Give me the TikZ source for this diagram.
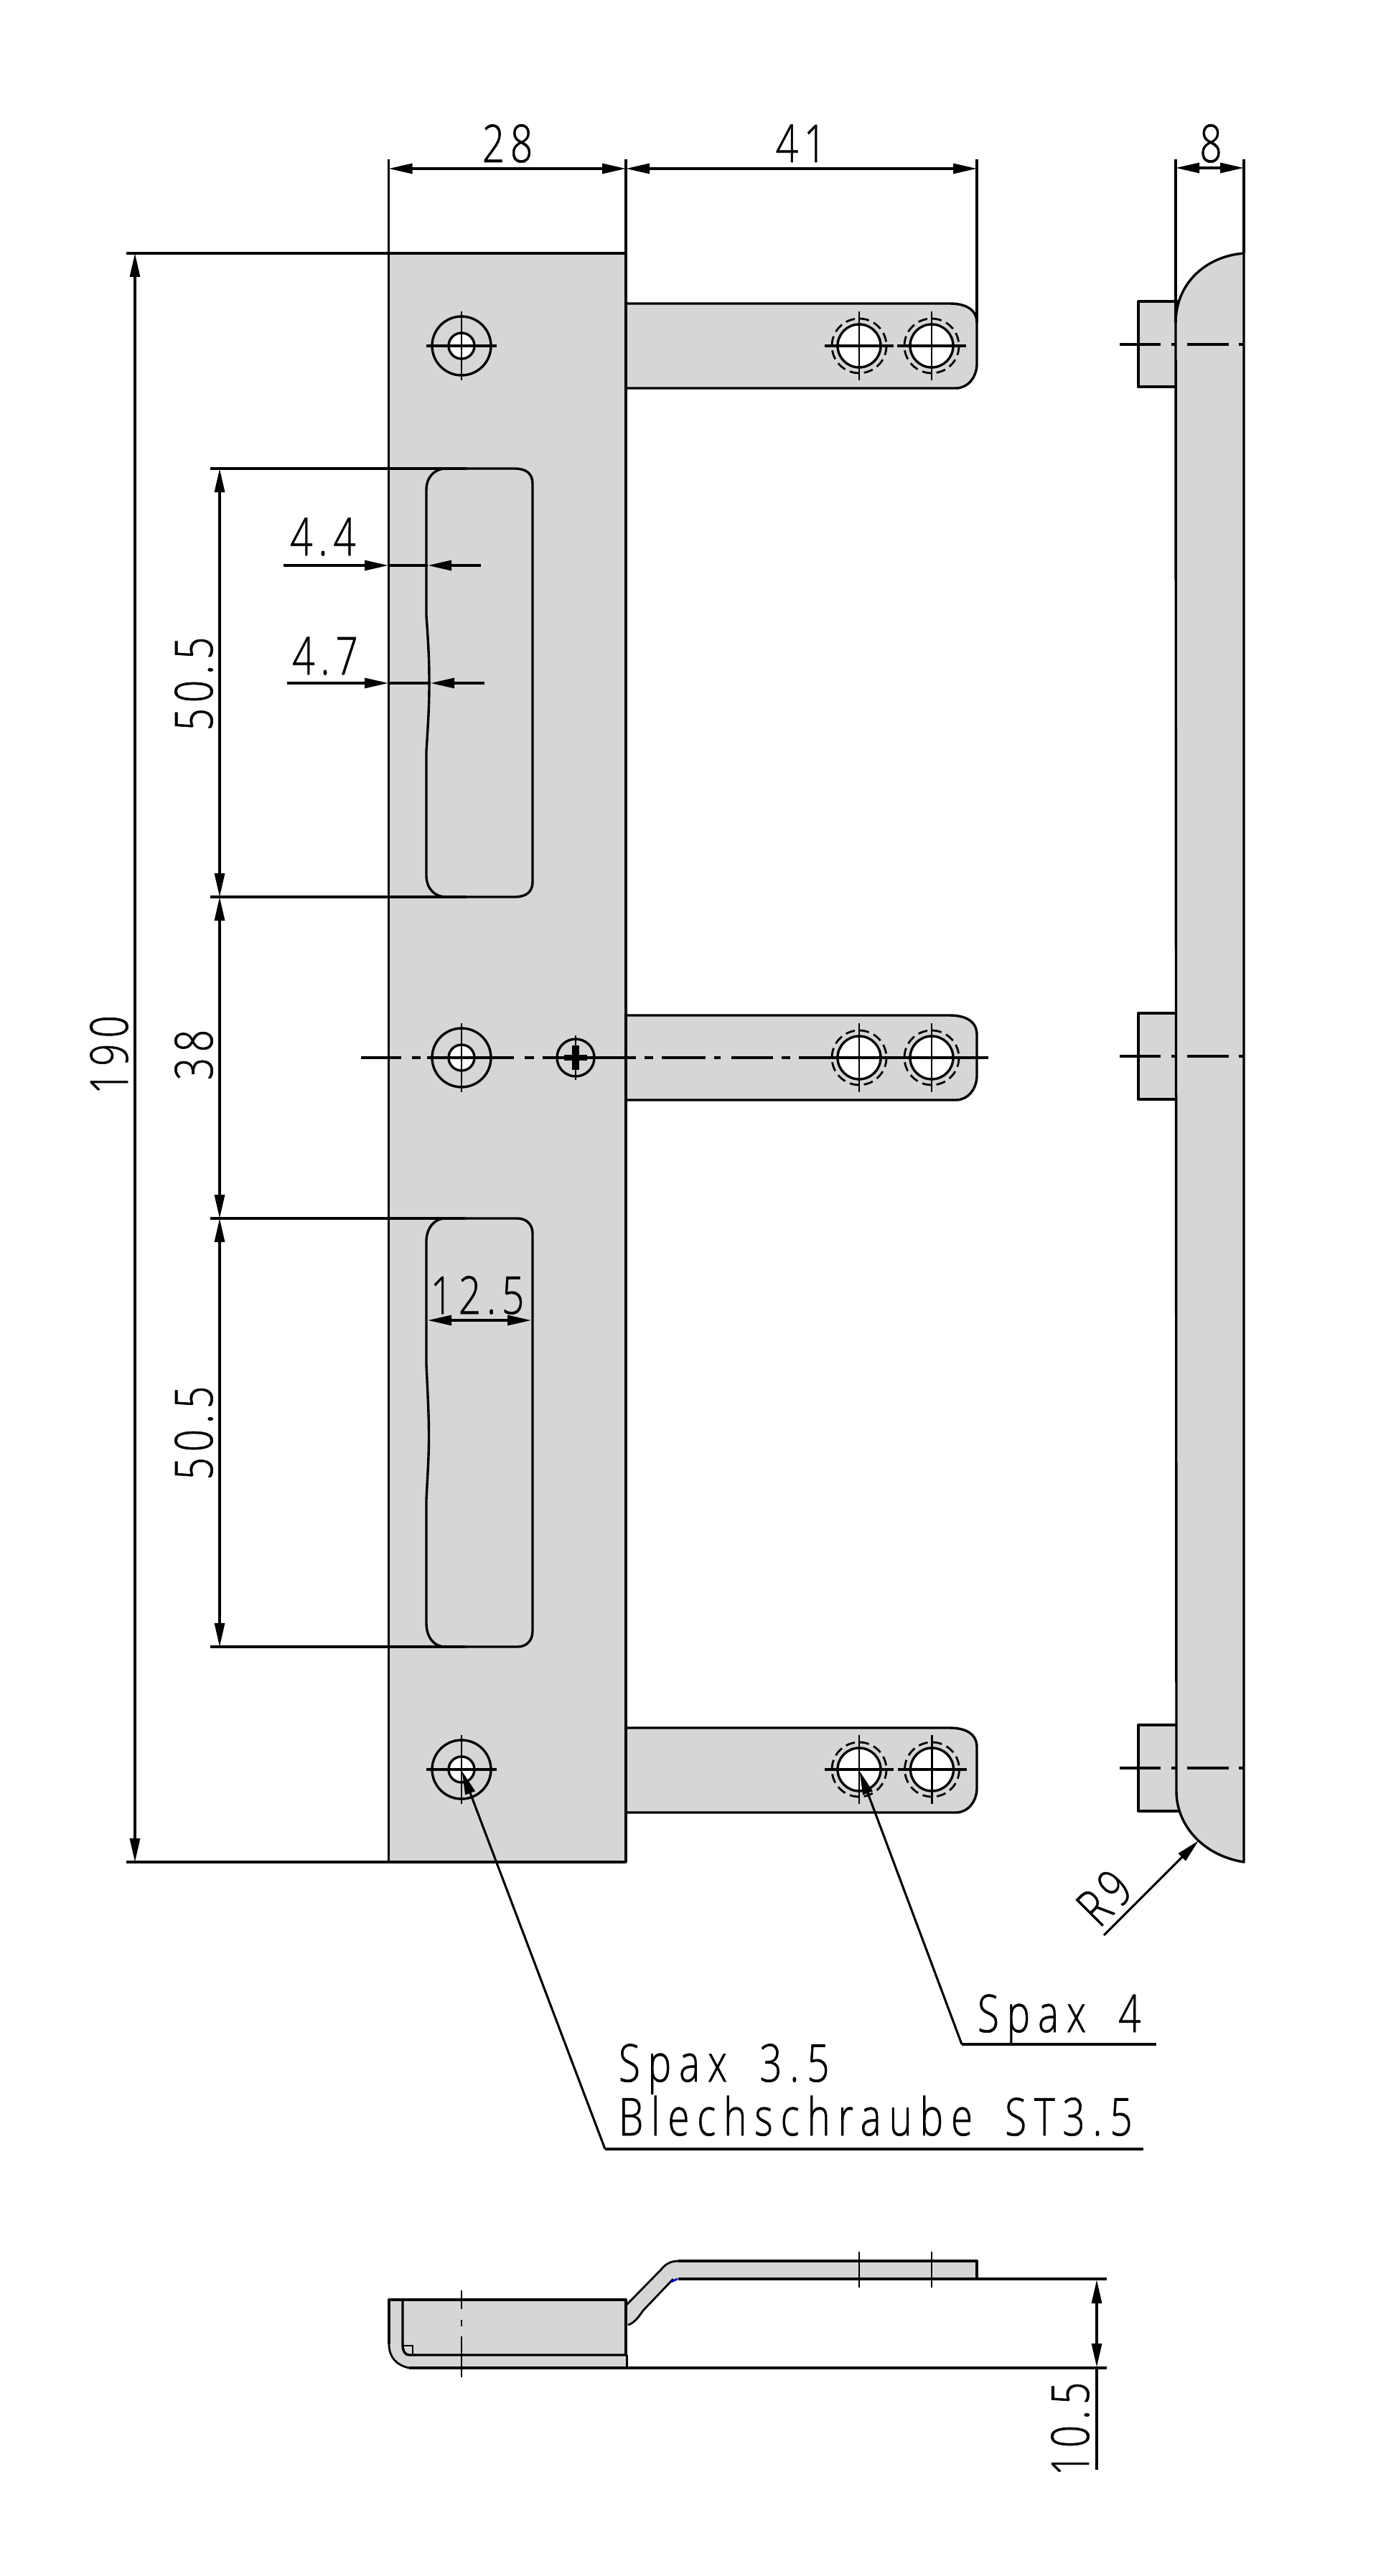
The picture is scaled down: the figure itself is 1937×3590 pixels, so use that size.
\documentclass[tikz,border=0pt]{standalone}
\usepackage{fontspec}
\usetikzlibrary{arrows.meta}
\setmainfont[FakeStretch=0.75,LetterSpace=11,FakeBold=0.8]{Open Sans Light}
\newfontfamily\lettfont[FakeStretch=0.75,LetterSpace=15,WordSpace=1.8,FakeBold=0.8]{Open Sans Light}
\definecolor{gr}{RGB}{214,214,214}
\tikzset{
  outl/.style={line width=1.7pt,line cap=butt,line join=round},
  dimln/.style={line width=1.55pt},
  thinln/.style={line width=1.4pt},
  arr/.style={-{Triangle[length=16.5pt,width=7pt]}},
  arrs/.style={{Triangle[length=16.5pt,width=7pt]}-{Triangle[length=16.5pt,width=7pt]}},
  lbl/.style={inner sep=0pt,outer sep=0pt,font=\fontsize{36.4}{40}\selectfont},
  lett/.style={inner sep=0pt,outer sep=0pt,font=\lettfont\fontsize{36.4}{40}\selectfont}
}
\newcommand{\plateHole}[2]{%
  \begin{scope}[shift={(#1,#2)}]
    \draw[outl] (0,0) circle[radius=41];
    \draw[outl,fill=white] (0,0) circle[radius=18];
    \draw[thinln] (0,-48) -- (0,48);
    \draw[outl] (-49,0) -- (49,0);
  \end{scope}}
\newcommand{\slotHole}[2]{%
  \begin{scope}[shift={(#1,#2)}]
    \draw[thinln,dash pattern=on 6.5pt off 3.5pt] (0,0) circle[radius=38];
    \draw[outl,fill=white] (0,0) circle[radius=30];
    \draw[thinln] (0,-48) -- (0,48);
    \draw[outl] (-48,0) -- (48,0);
  \end{scope}}
\newcommand{\lugShape}[1]{%
  \begin{scope}[shift={(0,#1)}]
    \path[fill=gr,draw=black,outl] (872,0) -- (1323,0) .. controls (1345,0) and (1361,8) .. (1361,27) -- (1361,84) .. controls (1361,103) and (1348,118) .. (1332,118) -- (872,118);
  \end{scope}}
\newcommand{\railBlock}[3]{%
  \path[fill=gr,draw=black,outl] (1638,#1) -- (1586,#1) -- (1586,#2) -- (#3,#2);}
\newcommand{\railAxis}[1]{%
  \begin{scope}[shift={(0,#1)}]
    \draw[outl] (1560,0) -- (1617,0) (1632,0) -- (1638,0) (1654,0) -- (1712,0) (1726,0) -- (1733,0);
  \end{scope}}
\begin{document}
\begin{tikzpicture}[x=0.5pt,y=-0.5pt]
\path[use as bounding box] (0,0) rectangle (1937,3590);

% front view: lugs
\lugShape{423}
\lugShape{1415}
\lugShape{2408}
% plate
\draw[outl,fill=gr] (541.5,353) rectangle (872,2595);
% slots
\draw[outl] (594,683) .. controls (594,665) and (605,653) .. (622,653) -- (717,653) .. controls (733,653) and (742,660) .. (742,674) -- (742,1229) .. controls (742,1243) and (733,1250) .. (717,1250) -- (622,1250) .. controls (605,1250) and (594,1238) .. (594,1220) -- (594,1047) .. controls (597,1000) and (598,980) .. (598,952) .. controls (598,920) and (597,900) .. (594,858) -- cycle;
\draw[outl] (594,1730) .. controls (594,1712) and (605,1698) .. (620,1698) -- (721,1698) .. controls (733,1698) and (742,1706) .. (742,1719) -- (742,2273) .. controls (742,2287) and (733,2295) .. (721,2295) -- (620,2295) .. controls (605,2295) and (594,2282) .. (594,2262) -- (594,2090) .. controls (596,2050) and (597.5,2030) .. (597.5,2003) .. controls (597.5,1970) and (596,1945) .. (594,1902) -- cycle;
% holes
\plateHole{643}{482}
\plateHole{643}{2466}
\slotHole{1197}{482}
\slotHole{1298}{482}
\slotHole{1197}{2466}
\slotHole{1298.5}{2466}
% middle row
\begin{scope}[shift={(643,1474)}]
  \draw[outl] (0,0) circle[radius=41];
  \draw[outl,fill=white] (0,0) circle[radius=18];
  \draw[thinln] (0,-48) -- (0,48);
\end{scope}
\begin{scope}[shift={(802,1474)}]
  \draw[outl] (0,0) circle[radius=26];
  \draw[thinln] (0,-31) -- (0,31);
  \fill (-16,-4) rectangle (16,4);
  \fill (-5,-17) rectangle (5,17);
\end{scope}
\begin{scope}[shift={(1197,1474)}]
  \draw[thinln,dash pattern=on 6.5pt off 3.5pt] (0,0) circle[radius=38];
  \draw[outl,fill=white] (0,0) circle[radius=30];
  \draw[thinln] (0,-48) -- (0,48);
\end{scope}
\begin{scope}[shift={(1298,1474)}]
  \draw[thinln,dash pattern=on 6.5pt off 3.5pt] (0,0) circle[radius=38];
  \draw[outl,fill=white] (0,0) circle[radius=30];
  \draw[thinln] (0,-48) -- (0,48);
\end{scope}
\draw[outl] (503,1474) -- (559,1474) (574,1474) -- (586,1474) (595,1474) -- (716,1474) (731,1474) -- (744,1474) (756,1474) -- (886,1474) (898,1474) -- (910,1474) (922,1474) -- (983,1474) (995,1474) -- (1004,1474) (1019,1474) -- (1077,1474) (1089,1474) -- (1101,1474) (1113,1474) -- (1377,1474);

% dimensions, front view
\coordinate (e41) at (1361,450);
\draw[dimln] (541.5,222) -- (541.5,353);
\draw[dimln] (872,222) -- (872,423);
\draw[dimln] (1361,222) -- (e41);
\draw[dimln,arrs] (541.5,235) -- (872,235);
\draw[dimln,arrs] (872,235) -- (1361,235);
\node[lbl,anchor=base] (t28) at (707,226) {28};
\node[lbl,anchor=base] (t41) at (1116,226) {41};
% 190
\draw[dimln] (176,353) -- (541.5,353);
\draw[dimln] (176,2595) -- (541.5,2595);
\draw[dimln,arrs] (188,353) -- (188,2595);
\node[lbl,rotate=90,anchor=base] (t190) at (178,1470) {190};
% 50.5 / 38 / 50.5
\draw[dimln] (293,653) -- (650,653);
\draw[dimln] (293,1250) -- (650,1250);
\draw[dimln] (293,1698) -- (650,1698);
\draw[dimln] (293,2295) -- (650,2295);
\draw[dimln,arrs] (306,653) -- (306,1250);
\draw[dimln,arrs] (306,1250) -- (306,1698);
\draw[dimln,arrs] (306,1698) -- (306,2295);
\node[lbl,rotate=90,anchor=base] (t505a) at (296,953) {50.5};
\node[lbl,rotate=90,anchor=base] (t38) at (296,1470) {38};
\node[lbl,rotate=90,anchor=base] (t505b) at (296,1997) {50.5};
% 4.4 / 4.7
\draw[dimln,arr] (395,788) -- (541,788);
\draw[dimln] (541,788) -- (596,788);
\draw[dimln,arr] (670,788) -- (596,788);
\node[lbl,anchor=base] (t44) at (450,774) {4.4};
\draw[dimln,arr] (400,952) -- (541,952);
\draw[dimln] (541,952) -- (600,952);
\draw[dimln,arr] (675,952) -- (600,952);
\node[lbl,anchor=base] (t47) at (453,940) {4.7};
% 12.5
\draw[dimln,arrs] (596,1840) -- (740,1840);
\node[lbl,anchor=base] (t125) at (665,1831) {12.5};

% side view
\railBlock{420}{539}{1638}
\railBlock{1412}{1532}{1638}
\railBlock{2404}{2524}{1644}
\draw[outl] (1586,420) -- (1645,420);
\draw[outl,fill=gr] (1638,450) .. controls (1638,395) and (1680,357) .. (1733,353) -- (1733,2595) .. controls (1672,2585) and (1639,2540) .. (1639,2497) -- cycle;
\railAxis{480}
\railAxis{1472}
\railAxis{2464}
\draw[dimln] (1638,222) -- (1638,450);
\draw[dimln] (1733,222) -- (1733,353);
\draw[dimln,arrs] (1638,234) -- (1733,234);
\node[lbl,anchor=base] (t8) at (1687,226) {8};
% R9
\coordinate (rTail) at (1538,2697);
\coordinate (rTip) at (1670,2565);
\draw[dimln,arr] (rTail) -- (rTip);
\node[lbl,rotate=45,anchor=base] (tR) at (1557,2663) {R9};

% leaders
\coordinate (lA) at (643.5,2468);
\coordinate (lAk) at (843,2995);
\coordinate (lAe) at (1593,2995);
\coordinate (lB) at (1197.5,2468);
\coordinate (lBk) at (1340,2849);
\coordinate (lBe) at (1611,2849);
\draw[dimln,arr] (lAk) -- (lA);
\draw[dimln] (lAk) -- (lAe);
\draw[dimln,arr] (lBk) -- (lB);
\draw[dimln] (lBk) -- (lBe);
\node[lett,anchor=base west] (tS4) at (1362,2832) {Spax 4};
\node[lett,anchor=base west] (tS35) at (862,2901) {Spax 3.5};
\node[lett,anchor=base west] (tBl) at (862,2976) {Blechschraube ST3.5};

% bottom view
\fill[gr] (542,3205) -- (872,3205) -- (872,3213) -- (921,3163) .. controls (928,3154) and (936,3151) .. (945,3151) -- (1361,3151) -- (1361,3176) -- (945,3176) -- (938,3176) -- (896,3220) .. controls (888,3232) and (882,3238) .. (875,3240) -- (872,3240) -- (873,3300) -- (570,3300) .. controls (552,3296) and (542,3285) .. (542,3267) -- cycle;
\draw[outl] (542,3267) -- (542,3205) -- (872,3205) -- (872,3282);
\draw[thinln] (872,3213) -- (921,3163) .. controls (928,3154) and (936,3151) .. (945,3151);
\draw[outl] (945,3151) -- (1361,3151) -- (1361,3176);
\draw[outl] (945,3176) -- (1542,3176);
\draw[thinln] (938,3176) -- (896,3220) .. controls (888,3232) and (882,3238) .. (875,3240);
\draw[line width=1.4pt,color=blue!80!black] (935,3180) -- (944,3176);
\draw[thinln] (542,3267) .. controls (542,3285) and (552,3296) .. (570,3300);
\draw[outl] (570,3300) -- (1542,3300);
\draw[thinln] (873.5,3282) -- (873.5,3300);
\draw[outl] (561,3205) -- (561,3268) .. controls (561,3276) and (564,3282) .. (570,3282) -- (872,3282);
\draw[line width=0.9pt] (561,3269) -- (575,3269) -- (575,3281);
\draw[thinln] (643,3192) -- (643,3218) (643,3233) -- (643,3242) (643,3256) -- (643,3313);
\draw[thinln] (1197,3138) -- (1197,3188);
\draw[thinln] (1298,3138) -- (1298,3188);
\draw[dimln,arr] (1528,3230) -- (1528,3177);
\draw[dimln,arr] (1528,3240) -- (1528,3299);
\draw[dimln] (1528,3230) -- (1528,3240);
\draw[dimln] (1528,3299) -- (1528,3442);
\node[lbl,rotate=90,anchor=base] (t105) at (1517,3385) {10.5};
\end{tikzpicture}
\end{document}
